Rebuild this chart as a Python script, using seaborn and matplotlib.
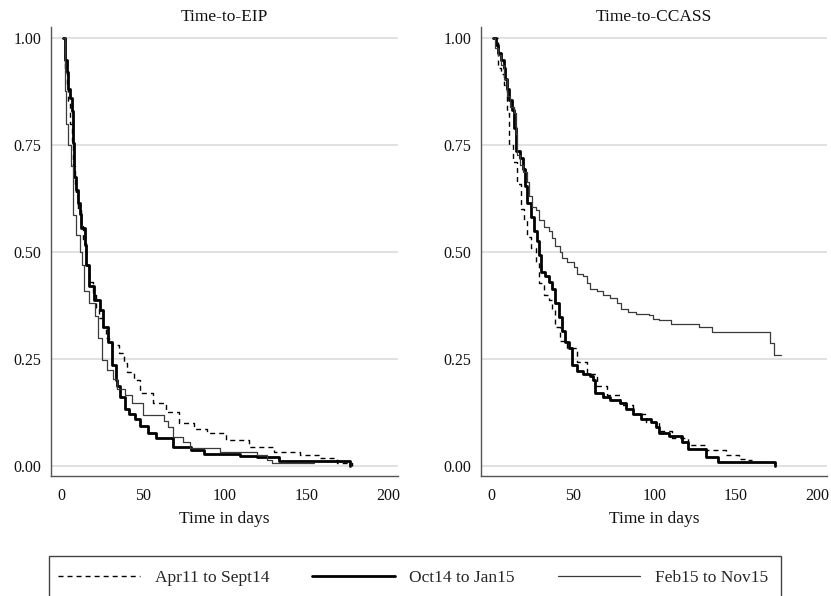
import numpy as np
import pandas as pd
import matplotlib
matplotlib.use("Agg")
import matplotlib.pyplot as plt
import seaborn as sns
from matplotlib.lines import Line2D
from matplotlib.patches import Rectangle

sns.set_theme(style="white")
plt.rcParams["font.family"] = ["Liberation Serif", "DejaVu Serif"]

panel_titles = ["Time-to-EIP", "Time-to-CCASS"]
group_labels = ["Apr11 to Sept14", "Oct14 to Jan15", "Feb15 to Nov15"]
x_label = "Time in days"
x_ticks = [0, 50, 100, 150, 200]
y_ticks = [0.0, 0.25, 0.50, 0.75, 1.00]

# ---- Time-to-EIP ----
eip_apr_t = [1, 2, 3, 4, 5, 6, 7, 8, 9, 10, 12, 13, 15, 17, 19, 21, 23, 25, 27, 29, 31,
             35, 38, 40, 44, 48, 56, 64, 72, 81, 89, 101, 115, 130, 146, 158, 169, 178]
eip_apr_s = [1.0, 0.93, 0.89, 0.85, 0.80, 0.76, 0.70, 0.66, 0.63, 0.60, 0.56, 0.52, 0.47, 0.43,
             0.40, 0.37, 0.345, 0.32, 0.30, 0.29, 0.283,
             0.263, 0.24, 0.22, 0.20, 0.17, 0.146, 0.126, 0.10, 0.086, 0.078, 0.061, 0.045,
             0.033, 0.025, 0.018, 0.007, 0.0]

eip_oct_t = [1, 2, 3, 4, 5, 6, 7, 7.5, 9, 10, 11, 12, 14, 15, 17, 20, 23.5, 25.5, 28.6, 31,
             33, 34, 36, 39, 41, 45, 48, 53, 58, 68.5, 79, 87, 109, 119.6, 133, 176.5]
eip_oct_s = [1.0, 0.95, 0.92, 0.88, 0.86, 0.83, 0.755, 0.675, 0.645, 0.614, 0.59, 0.557, 0.517,
             0.469, 0.42, 0.388, 0.364, 0.324, 0.29, 0.235, 0.20, 0.186, 0.162, 0.134, 0.122,
             0.11, 0.094, 0.077, 0.065, 0.045, 0.037, 0.029, 0.023, 0.02, 0.011, 0.0]

eip_feb_t = [1, 2, 2.7, 4, 5.5, 7, 9, 11, 12.7, 13.7, 16.4, 20.4, 22.5, 24.5, 27.6, 31.3, 34,
             38.9, 43, 50, 63, 65.4, 68, 74.6, 78.7, 97, 119.6, 126, 129, 154.4]
eip_feb_s = [1.0, 0.877, 0.80, 0.75, 0.70, 0.586, 0.54, 0.50, 0.469, 0.41, 0.38, 0.35, 0.30,
             0.247, 0.225, 0.203, 0.18, 0.166, 0.146, 0.12, 0.105, 0.09, 0.068, 0.055, 0.041,
             0.033, 0.025, 0.013, 0.007, 0.007]

# ---- Time-to-CCASS ----
ccass_apr_t = [0.6, 3.7, 6, 7.3, 9.3, 10.8, 12.8, 15.8, 17.9, 19.9, 21.9, 24, 27, 29, 32, 35,
               37, 39, 42.2, 46.3, 52.4, 58.5, 64.6, 70.7, 78.8, 87, 95, 103, 111, 121, 131.6,
               143.8, 152, 157, 160]
ccass_apr_s = [1.0, 0.93, 0.917, 0.89, 0.824, 0.75, 0.71, 0.66, 0.60, 0.574, 0.534, 0.509,
               0.477, 0.428, 0.40, 0.388, 0.364, 0.324, 0.291, 0.275, 0.243, 0.215, 0.186,
               0.166, 0.142, 0.122, 0.102, 0.082, 0.065, 0.049, 0.037, 0.025, 0.017, 0.013,
               0.013]

ccass_oct_t = [0.6, 2.6, 4, 5.7, 7.3, 8.3, 9.3, 10.8, 12.2, 13.8, 15.2, 17.3, 19, 20.5, 21.9,
               24, 26, 28, 29, 30.5, 32.5, 35, 37, 38.8, 41.2, 43.2, 45.3, 47.3, 49.3, 52.4,
               56.4, 60.5, 62, 63.5, 68.6, 72.7, 78.8, 82.8, 87, 92, 98, 101, 103, 109, 117,
               121, 132, 139, 174]
ccass_oct_s = [1.0, 0.985, 0.965, 0.95, 0.93, 0.905, 0.88, 0.856, 0.832, 0.79, 0.735, 0.72,
               0.695, 0.655, 0.614, 0.582, 0.55, 0.525, 0.493, 0.453, 0.445, 0.43, 0.413, 0.38,
               0.348, 0.316, 0.29, 0.275, 0.235, 0.223, 0.215, 0.211, 0.20, 0.17, 0.162, 0.154,
               0.146, 0.134, 0.122, 0.11, 0.102, 0.09, 0.077, 0.069, 0.057, 0.04, 0.022, 0.01,
               0.0]

ccass_feb_t = [0.6, 2, 3.7, 5.7, 7.7, 9.3, 11.4, 13.4, 14.8, 15.8, 17.5, 19.5, 21.5, 23, 25,
               27, 29, 32, 35, 37, 39, 41.8, 43.2, 46.3, 50.4, 52.4, 56.4, 58.5, 60.5, 64.6,
               68.6, 72.7, 76.8, 79.8, 84, 89, 97, 99, 103, 110, 127.5, 135.6, 171, 173.8, 177.9]
ccass_feb_s = [1.0, 0.977, 0.96, 0.937, 0.905, 0.864, 0.84, 0.824, 0.776, 0.727, 0.703, 0.687,
               0.663, 0.63, 0.606, 0.598, 0.574, 0.558, 0.55, 0.533, 0.513, 0.501, 0.485,
               0.477, 0.465, 0.449, 0.445, 0.428, 0.413, 0.408, 0.40, 0.392, 0.38, 0.368, 0.36,
               0.356, 0.352, 0.344, 0.34, 0.332, 0.324, 0.312, 0.287, 0.259, 0.259]

panels = [
    [(eip_apr_t, eip_apr_s), (eip_oct_t, eip_oct_s), (eip_feb_t, eip_feb_s)],
    [(ccass_apr_t, ccass_apr_s), (ccass_oct_t, ccass_oct_s), (ccass_feb_t, ccass_feb_s)],
]

styles = [
    dict(color="black", linewidth=1.0, linestyle=(0, (3.6, 2.9))),
    dict(color="black", linewidth=2.0, linestyle="-"),
    dict(color="#3a3a3a", linewidth=0.9, linestyle="-"),
]

fig = plt.figure(figsize=(8.31, 5.96), dpi=100)
W, H = 831, 596
axes = [
    fig.add_axes([51 / W, 1 - 476 / H, 347 / W, 449 / H]),
    fig.add_axes([481 / W, 1 - 476 / H, 346 / W, 449 / H]),
]

spine_col = "#555555"
for ax, series, title in zip(axes, panels, panel_titles):
    for (t, s), st in zip(series, styles):
        df = pd.DataFrame({"t": t, "s": s})
        sns.lineplot(data=df, x="t", y="s", ax=ax, estimator=None, sort=False,
                     drawstyle="steps-post", **st)
    ax.set_xlim(-6.6, 206.2)
    ax.set_ylim(-0.0235, 1.026)
    ax.set_xticks(x_ticks)
    ax.set_xticklabels([str(v) for v in x_ticks])
    ax.set_yticks(y_ticks)
    ax.set_yticklabels([f"{v:.2f}" for v in y_ticks])
    ax.yaxis.grid(True, color="#d9d9d9", linewidth=1.1)
    ax.xaxis.grid(False)
    ax.set_axisbelow(True)
    for side in ["top", "right"]:
        ax.spines[side].set_visible(False)
    for side in ["left", "bottom"]:
        ax.spines[side].set_color(spine_col)
        ax.spines[side].set_linewidth(1.0)
    ax.tick_params(axis="both", direction="out", length=5, width=0.9, color=spine_col,
                   labelsize=11.5, labelcolor="#111111")
    ax.tick_params(axis="x", pad=3.5)
    ax.tick_params(axis="y", pad=2)
    ax.set_title(title, fontsize=12.5, pad=4.5, color="#111111")
    ax.set_xlabel(x_label, fontsize=12.5, labelpad=5.5, color="#111111")
    ax.set_ylabel("")

handles = [Line2D([], [], **st) for st in styles]
fig.legend(handles, group_labels, loc="center left", bbox_to_anchor=(58 / W, 1 - 578 / H),
           ncol=3, frameon=False, fontsize=12.5, handlelength=4.75, handletextpad=0.85,
           columnspacing=2.45, borderpad=0, borderaxespad=0)
fig.add_artist(Rectangle((49 / W, -0.05), (781 - 49) / W, (596 - 556) / H + 0.05,
                         transform=fig.transFigure, fill=False, edgecolor="#444444",
                         linewidth=1.0))

fig.savefig("out.png", dpi=100)
